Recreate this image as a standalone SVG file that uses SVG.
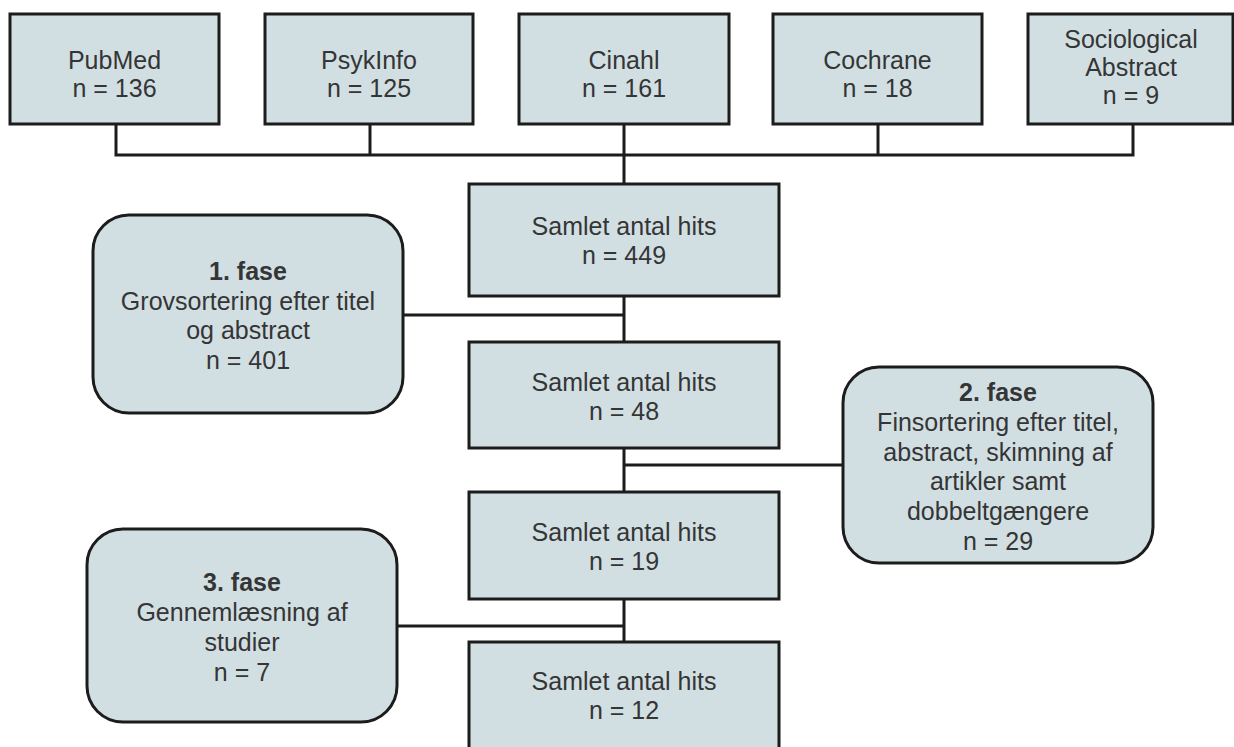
<svg xmlns="http://www.w3.org/2000/svg" width="1234" height="747" viewBox="0 0 1234 747">
<style>
.box{fill:#d1dfe3;stroke:#1c1c1c;stroke-width:3}
.ln{fill:none;stroke:#1c1c1c;stroke-width:3}
text{font-family:"Liberation Sans",Arial,sans-serif;font-size:25px;fill:#353535;text-anchor:middle}
.b{font-weight:bold}
</style>
<rect width="1234" height="747" fill="#fff"/>
<g id="connectors">
<path class="ln" d="M116 124V155H1133V124M370 124V155M624 124V184M878 124V155"/>
<path class="ln" d="M624 296V342M624 448V492M624 599V642"/>
<path class="ln" d="M403 315H624M624 465H843M397 626H624"/>
</g>
<g id="pubmed"><rect class="box" x="10" y="14" width="209" height="110"/><text x="114.5" y="69">PubMed</text><text x="114.5" y="97">n = 136</text></g>
<g id="psykinfo"><rect class="box" x="265" y="14" width="208" height="110"/><text x="369" y="69">PsykInfo</text><text x="369" y="97">n = 125</text></g>
<g id="cinahl"><rect class="box" x="519" y="14" width="210" height="110"/><text x="624" y="69">Cinahl</text><text x="624" y="97">n = 161</text></g>
<g id="cochrane"><rect class="box" x="773" y="14" width="209" height="110"/><text x="877.5" y="69">Cochrane</text><text x="877.5" y="97">n = 18</text></g>
<g id="sociological"><rect class="box" x="1028" y="14" width="205" height="110"/><text x="1131" y="48">Sociological</text><text x="1131" y="76">Abstract</text><text x="1131" y="104">n = 9</text></g>
<g id="hits449"><rect class="box" x="469" y="184" width="310" height="112"/><text x="624" y="235">Samlet antal hits</text><text x="624" y="264">n = 449</text></g>
<g id="fase1"><rect class="box" x="93" y="215" width="310" height="198" rx="36"/><text class="b" x="248" y="280">1. fase</text><text x="248" y="309.5">Grovsortering efter titel</text><text x="248" y="339">og abstract</text><text x="248" y="368.5">n = 401</text></g>
<g id="hits48"><rect class="box" x="469" y="342" width="310" height="106"/><text x="624" y="391">Samlet antal hits</text><text x="624" y="420">n = 48</text></g>
<g id="fase2"><rect class="box" x="843" y="367" width="310" height="196" rx="36"/><text class="b" x="998" y="401">2. fase</text><text x="998" y="431">Finsortering efter titel,</text><text x="998" y="461">abstract, skimning af</text><text x="998" y="490">artikler samt</text><text x="998" y="520">dobbeltgængere</text><text x="998" y="550">n = 29</text></g>
<g id="hits19"><rect class="box" x="469" y="492" width="310" height="107"/><text x="624" y="541">Samlet antal hits</text><text x="624" y="570">n = 19</text></g>
<g id="fase3"><rect class="box" x="87" y="529" width="310" height="193" rx="36"/><text class="b" x="242" y="591">3. fase</text><text x="242" y="621">Gennemlæsning af</text><text x="242" y="651">studier</text><text x="242" y="681">n = 7</text></g>
<g id="hits12"><rect class="box" x="469" y="642" width="310" height="120"/><text x="624" y="690">Samlet antal hits</text><text x="624" y="719">n = 12</text></g>
</svg>
